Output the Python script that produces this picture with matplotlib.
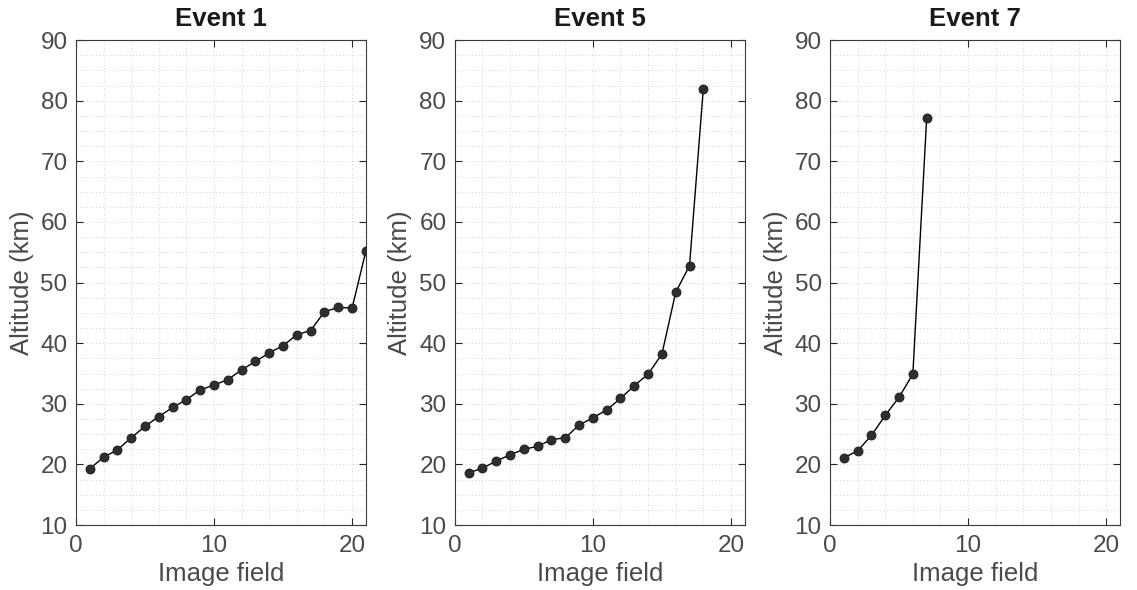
import matplotlib
matplotlib.use('Agg')
import matplotlib.pyplot as plt
from matplotlib.ticker import MultipleLocator

plt.rcParams['font.family'] = ['Liberation Sans', 'DejaVu Sans']

titles = ['Event 1', 'Event 5', 'Event 7']

alt_event1 = [19.3, 21.2, 22.4, 24.4, 26.3, 27.9, 29.4, 30.7, 32.3, 33.1, 34.0,
              35.6, 37.0, 38.4, 39.6, 41.4, 42.1, 45.2, 45.9, 45.8, 55.2]
alt_event5 = [18.6, 19.4, 20.55, 21.6, 22.5, 23.0, 24.1, 24.4, 26.5, 27.7, 29.0,
              30.9, 33.0, 34.9, 38.2, 48.4, 52.8, 82.0]
alt_event7 = [21.1, 22.25, 24.8, 28.1, 31.1, 34.9, 77.1]

series = [alt_event1, alt_event5, alt_event7]

fig = plt.figure(figsize=(11.37, 5.90), dpi=100)

lefts = [0.0668, 0.400, 0.730]
width = 0.255
bottom = 0.110
height = 0.822

for i, (title, alts) in enumerate(zip(titles, series)):
    ax = fig.add_axes([lefts[i], bottom, width, height])
    fields = list(range(1, len(alts) + 1))
    ax.plot(fields, alts, color='black', linewidth=1.0, marker='o',
            markersize=6.5, markerfacecolor='#2e2e2e', markeredgecolor='#1a1a1a',
            markeredgewidth=0.6, zorder=3)

    ax.set_xlim(0, 21)
    ax.set_ylim(10, 90)
    ax.xaxis.set_major_locator(MultipleLocator(10))
    ax.xaxis.set_minor_locator(MultipleLocator(2))
    ax.yaxis.set_major_locator(MultipleLocator(10))
    ax.yaxis.set_minor_locator(MultipleLocator(2.5))

    ax.grid(True, which='both', color='#c4c4c4', linestyle=(0, (1, 3)), linewidth=0.6)
    ax.set_axisbelow(True)

    ax.tick_params(which='major', direction='in', length=5, width=0.8,
                   top=True, right=True, labelsize=17.5, color='#262626',
                   labelcolor='#4a4a4a')
    ax.tick_params(axis='x', which='major', pad=7)
    ax.tick_params(axis='y', which='major', pad=6)
    ax.tick_params(which='minor', length=0)
    for sp in ax.spines.values():
        sp.set_color('#3a3a3a')
        sp.set_linewidth(0.8)

    ax.set_title(title, fontsize=18.5, fontweight='bold', color='#1a1a1a', pad=10)
    ax.set_xlabel('Image field', fontsize=18.5, color='#4a4a4a', labelpad=4)
    ax.set_ylabel('Altitude (km)', fontsize=18.5, color='#4a4a4a', labelpad=5)

fig.savefig('out.png', dpi=100)
